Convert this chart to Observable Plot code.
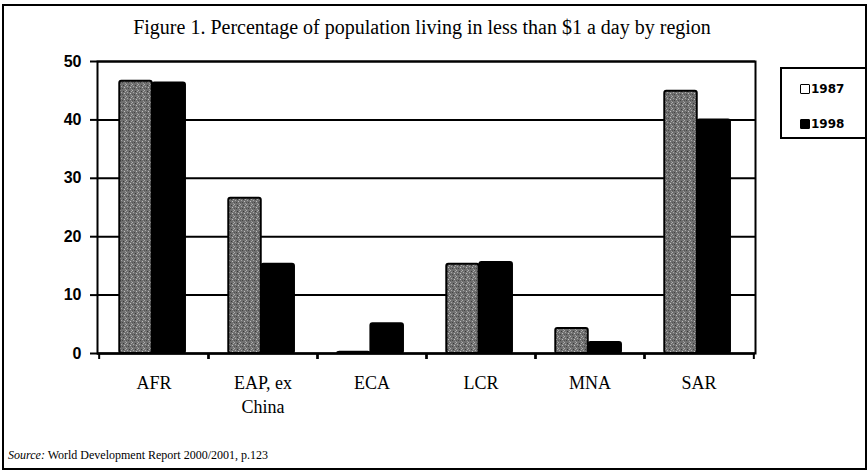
<!DOCTYPE html>
<html><head><meta charset="utf-8">
<script src="https://cdn.jsdelivr.net/npm/d3@7"></script>
<script src="https://cdn.jsdelivr.net/npm/@observablehq/plot@0.6"></script>
<style>
body{margin:0;background:#fff;}
#wrap{position:relative;width:867px;height:470px;overflow:hidden;}
#border{position:absolute;left:2px;top:4px;width:861px;height:462px;border:2px solid #000;box-sizing:content-box;}
#title{position:absolute;left:97px;width:650px;top:16px;text-align:center;font-family:"Liberation Serif",serif;font-size:20px;line-height:22px;color:#000;}
#legend{position:absolute;left:780px;top:67px;width:90px;height:68px;border:2px solid #000;font-family:"DejaVu Sans",sans-serif;font-weight:bold;font-size:12px;}
.item{position:absolute;left:18px;display:flex;align-items:center;}
.sw{width:8px;height:8px;border:1.5px solid #000;margin-right:1px;border-radius:1px;}
#source{position:absolute;left:8px;top:448px;font-family:"Liberation Serif",serif;font-size:12px;color:#000;}
#chart{position:absolute;left:0;top:0;}
</style>
</head><body>
<svg width="0" height="0" style="position:absolute">
  <defs>
    <pattern id="tex" width="6" height="6" patternUnits="userSpaceOnUse">
      <rect width="6" height="6" fill="#6f6f6f"/>
      <rect x="0" y="0" width="1" height="1" fill="#b0b0b0"/>
      <rect x="3" y="1" width="1" height="1" fill="#3a3a3a"/>
      <rect x="1" y="2" width="1" height="1" fill="#a8a8a8"/>
      <rect x="4" y="3" width="1" height="1" fill="#c0c0c0"/>
      <rect x="2" y="4" width="1" height="1" fill="#444"/>
      <rect x="5" y="5" width="1" height="1" fill="#999"/>
      <rect x="0" y="4" width="1" height="1" fill="#555"/>
      <rect x="5" y="1" width="1" height="1" fill="#aaa"/>
    </pattern>
  </defs>
</svg>
<div id="wrap">
  <div id="chart"></div>
  <div id="border"></div>
  <div id="title">Figure 1. Percentage of population living in less than $1 a day by region</div>
  <div id="legend"></div>
  <div id="source"><i>Source:</i> World Development Report 2000/2001, p.123</div>
</div>
<script>
// ---- data ----
const regions = ["AFR", "EAP, ex\nChina", "ECA", "LCR", "MNA", "SAR"];
const years = ["1987", "1998"];
const values1987 = [46.6, 26.6, 0.2, 15.3, 4.3, 44.9];
const values1998 = [46.3, 15.3, 5.1, 15.6, 1.9, 40.0];
const yTicks = [0, 10, 20, 30, 40, 50];
const yearColors = ["url(#tex)", "#000000"];

// ---- table built from arrays ----
const d1987 = regions.map((r, i) => ({region: r, year: years[0], value: values1987[i]}));
const d1998 = regions.map((r, i) => ({region: r, year: years[1], value: values1998[i]}));

// ---- layout ----
const W = 867, H = 470;
const mL = 97, mR = 112, mT = 61, mB = 117;
const step = (W - mL - mR) / regions.length;
const a = 0.185 * step, b = 0.487 * step, c = 0.79 * step;

const plot = Plot.plot({
  width: W, height: H,
  marginLeft: mL, marginRight: mR, marginTop: mT, marginBottom: mB,
  x: {domain: regions, padding: 0, label: null},
  y: {domain: [0, 50], label: null},
  marks: [
    Plot.ruleY(yTicks.filter(d => d > 0), {stroke: "#000", strokeWidth: 2}),
    Plot.barY(d1987, {x: "region", y: "value", fill: yearColors[0], stroke: "#000", strokeWidth: 2,
      insetLeft: a, insetRight: step - b, rx: 2}),
    Plot.barY(d1998, {x: "region", y: "value", fill: yearColors[1], stroke: "#000", strokeWidth: 2,
      insetLeft: b, insetRight: step - c, rx: 2}),
    Plot.frame({stroke: "#000", strokeWidth: 2}),
    Plot.ruleY([0], {stroke: "#000", strokeWidth: 2.5}),
    Plot.axisY({ticks: yTicks, tickSize: 7, tickPadding: 9, strokeWidth: 2,
      fontSize: 16, fontWeight: "bold", fontFamily: "Liberation Sans, sans-serif", label: null}),
    Plot.axisX({tickSize: 0, tickPadding: 19, fontSize: 18, fontFamily: "Liberation Serif, serif",
      lineHeight: 1.3, label: null}),
    Plot.axisX({tickSize: 6, strokeWidth: 2, tickFormat: () => "", dx: -step / 2, label: null}),
    Plot.axisX({tickSize: 6, strokeWidth: 2, tickFormat: () => "", dx: step / 2, label: null})
  ]
});
plot.style.color = "#000";
document.getElementById("chart").appendChild(plot);

// legend
const leg = document.getElementById("legend");
years.forEach((y, i) => {
  const it = document.createElement("div");
  it.className = "item";
  it.style.top = (i === 0 ? 13 : 48) + "px";
  const sw = document.createElement("div");
  sw.className = "sw";
  sw.style.background = i === 0 ? "#fff" : "#000";
  it.appendChild(sw);
  const t = document.createElement("span");
  t.textContent = y;
  it.appendChild(t);
  leg.appendChild(it);
});
</script>
</body></html>
